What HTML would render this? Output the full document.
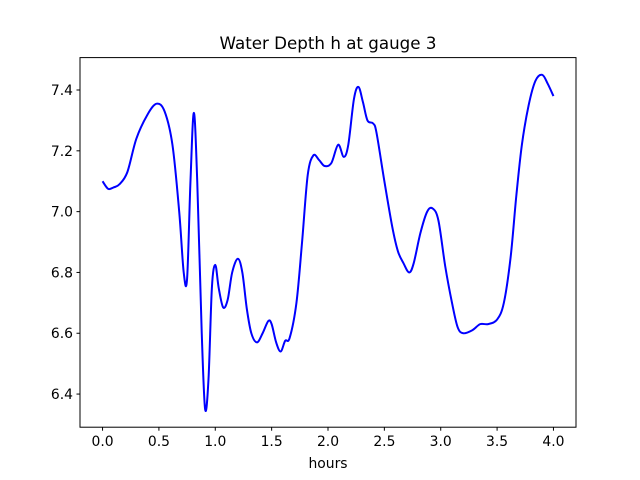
<!DOCTYPE html>
<html><head><meta charset="utf-8"><style>
body{margin:0;background:#fff}
svg{display:block;font-family:"DejaVu Sans","Liberation Sans",sans-serif}
</style></head><body>
<svg id="chart" width="640" height="480">
<rect width="640" height="480" fill="#fff"/>
<text x="328" y="49" font-size="16.7" text-anchor="middle">Water Depth h at gauge 3</text>
<g id="xt"></g>
<g id="yt"></g>
<path id="line" fill="none" stroke="#0000ff" stroke-width="2"/>
<rect x="80" y="57.6" width="496" height="369.6" fill="none" stroke="#000" stroke-width="1"/>
<text x="328" y="468" font-size="13.9" text-anchor="middle">hours</text>
</svg>
<script>
const hours=[0.0,0.05,0.1,0.15,0.22,0.3,0.4,0.48,0.55,0.62,0.68,0.72,0.75,0.78,0.81,0.84,0.88,0.91,0.94,0.97,1.0,1.03,1.07,1.11,1.15,1.2,1.24,1.28,1.32,1.37,1.42,1.47,1.5,1.54,1.58,1.62,1.66,1.72,1.77,1.82,1.87,1.92,1.97,2.03,2.09,2.14,2.18,2.23,2.27,2.31,2.35,2.4,2.43,2.5,2.57,2.62,2.67,2.72,2.76,2.82,2.88,2.93,2.98,3.04,3.1,3.15,3.2,3.28,3.35,3.42,3.5,3.56,3.62,3.67,3.72,3.78,3.84,3.9,3.95,4.0];
const depth=[7.10,7.075,7.08,7.09,7.13,7.24,7.32,7.355,7.33,7.22,7.0,6.8,6.78,7.1,7.325,7.1,6.6,6.35,6.45,6.75,6.825,6.75,6.685,6.71,6.80,6.845,6.80,6.68,6.60,6.57,6.60,6.64,6.63,6.57,6.54,6.575,6.585,6.70,6.9,7.12,7.185,7.17,7.15,7.16,7.22,7.18,7.22,7.37,7.41,7.36,7.30,7.29,7.26,7.10,6.95,6.87,6.83,6.80,6.83,6.93,7.00,7.01,6.97,6.82,6.70,6.62,6.60,6.61,6.63,6.63,6.645,6.70,6.85,7.05,7.22,7.35,7.43,7.45,7.42,7.38];
const xTicks=[0.0,0.5,1.0,1.5,2.0,2.5,3.0,3.5,4.0];
const yTicks=[6.4,6.6,6.8,7.0,7.2,7.4];
const X=v=>80+(v+0.2)/4.4*496;
const Y=v=>57.6+(7.5066-v)/(7.5066-6.291)*369.6;
const NS='http://www.w3.org/2000/svg';
const xt=document.getElementById('xt'),yt=document.getElementById('yt');
xTicks.forEach(t=>{
 const l=document.createElementNS(NS,'line');
 l.setAttribute('x1',X(t));l.setAttribute('x2',X(t));l.setAttribute('y1',427.2);l.setAttribute('y2',430.7);l.setAttribute('stroke','#000');
 
 
 xt.appendChild(l);
 const s=document.createElementNS(NS,'text');
 s.setAttribute('x',X(t));s.setAttribute('y',446);s.setAttribute('font-size','13.9');s.setAttribute('text-anchor','middle');
 s.textContent=t.toFixed(1);
 
 
 xt.appendChild(s);
});
yTicks.forEach(t=>{
 const l=document.createElementNS(NS,'line');
 l.setAttribute('x1',76.5);l.setAttribute('x2',80);l.setAttribute('y1',Y(t));l.setAttribute('y2',Y(t));l.setAttribute('stroke','#000');
 
 
 yt.appendChild(l);
 const s=document.createElementNS(NS,'text');
 s.setAttribute('x',73);s.setAttribute('y',Y(t)+5);s.setAttribute('font-size','13.9');s.setAttribute('text-anchor','end');
 s.textContent=t.toFixed(1);
 
 
 yt.appendChild(s);
});
const P=hours.map((h,i)=>[X(h),Y(depth[i])]);
let d='M'+P[0][0]+','+P[0][1];
for(let i=0;i<P.length-1;i++){
 const p0=P[Math.max(0,i-1)],p1=P[i],p2=P[i+1],p3=P[Math.min(P.length-1,i+2)];
 const c1=[p1[0]+(p2[0]-p0[0])/6,p1[1]+(p2[1]-p0[1])/6];
 const c2=[p2[0]-(p3[0]-p1[0])/6,p2[1]-(p3[1]-p1[1])/6];
 d+=' C'+c1[0]+','+c1[1]+' '+c2[0]+','+c2[1]+' '+p2[0]+','+p2[1];
}
document.getElementById('line').setAttribute('d',d);
</script>
</body></html>
